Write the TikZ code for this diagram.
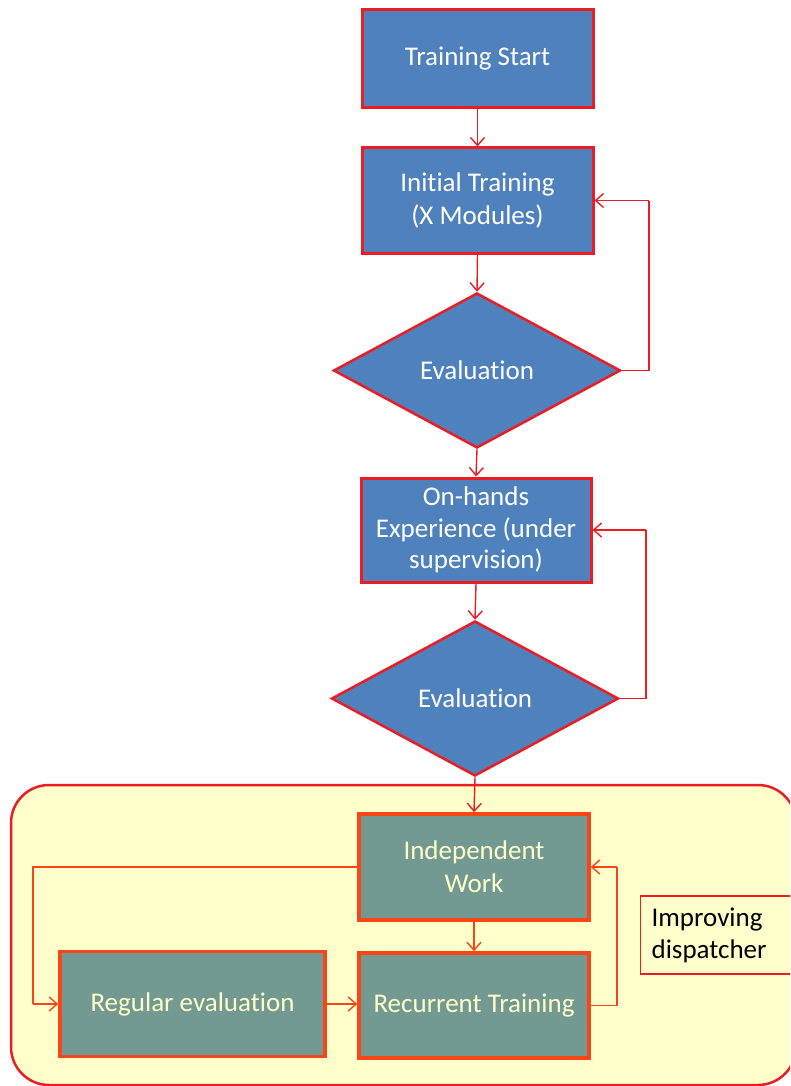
\documentclass[tikz,border=0pt]{standalone}
\usepackage{fontspec}
\setmainfont[Ligatures=NoCommon]{Carlito}
\usetikzlibrary{shapes.geometric,arrows.meta}
\definecolor{stepblue}{RGB}{79,129,189}
\definecolor{steptealfill}{RGB}{114,154,147}
\definecolor{borderred}{RGB}{235,28,36}
\definecolor{borderorange}{RGB}{250,70,22}
\definecolor{panelyellow}{RGB}{255,255,204}
\definecolor{palelabel}{RGB}{255,255,200}
\tikzset{
  bluebox/.style={rectangle, draw=borderred, line width=3pt, fill=stepblue,
    text=white, align=center, font=\fontsize{27}{33}\selectfont, inner sep=0pt},
  decision/.style={diamond, draw=borderred, line width=2.5pt, fill=stepblue,
    text=white, font=\fontsize{27}{33}\selectfont, inner sep=0pt,
    minimum width=287pt, minimum height=155pt},
  tealbox/.style={rectangle, draw=borderorange, line width=3.5pt, fill=steptealfill,
    text=palelabel, align=center, font=\fontsize{27}{33}\selectfont, inner sep=0pt},
  flow/.style={draw=borderred, line width=1.4pt, -{Straight Barb[length=8pt,width=14pt,line width=1.4pt]}},
  flowlow/.style={draw=borderorange, line width=1.4pt, -{Straight Barb[length=8pt,width=14pt,line width=1.4pt]}},
  linelow/.style={draw=borderorange, line width=1.4pt},
  lineup/.style={draw=borderred, line width=1.4pt},
}
\begin{document}
\begin{tikzpicture}[x=1pt,y=-1pt]
\useasboundingbox (0,0) rectangle (790,1086);
\clip (0,0) rectangle (790,1086);

% yellow panel for the independent phase
\draw[draw=borderred, line width=2.5pt, fill=panelyellow, rounded corners=38pt]
  (11,785) rectangle (796,1085);

% upper chain
\node[bluebox, minimum width=231pt, minimum height=98pt] (start) at (477.5,59) {Training Start};
\node[bluebox, minimum width=231pt, minimum height=105pt] (initial) at (477.5,200.5) {Initial Training\\(X Modules)};
\node[decision] (eval1) at (477,370.5) {Evaluation};
\node[bluebox, minimum width=230pt, minimum height=104pt, font=\fontsize{27}{31.5}\selectfont] (onhands) at (476,530) {On-hands\\Experience (under\\supervision)};
\node[decision] (eval2) at (475,698.5) {Evaluation};

% lower panel content
\node[tealbox, minimum width=230pt, minimum height=106pt] (indep) at (474,867) {Independent\\Work};
\node[tealbox, minimum width=230pt, minimum height=105pt] (recur) at (474,1005.5) {Recurrent Training};
\node[tealbox, minimum width=265pt, minimum height=105pt] (regular) at (192.5,1004) {Regular evaluation};
\node[rectangle, draw=borderred, line width=1.2pt, fill=panelyellow, anchor=west,
  minimum height=78pt, text width=150pt, align=left, inner xsep=11pt, inner ysep=0pt,
  font=\fontsize{27}{32}\selectfont, text=black] (improve) at (640,935) {Improving\\dispatcher};

% loop corners
\coordinate (r1) at (649,370.5);
\coordinate (r1t) at (649,200.5);
\coordinate (r2) at (646,698.5);
\coordinate (r2t) at (646,530);
\coordinate (l3) at (33,867);
\coordinate (l3b) at (33,1004);
\coordinate (r4) at (617,1005.5);
\coordinate (r4t) at (617,867);

% connectors
\draw[flow] (start.south) -- (initial.north);
\draw[flow] (initial.south) -- (eval1.north);
\draw[flow] (eval1.south) -- (onhands.north);
\draw[flow] (onhands.south) -- (eval2.north);
\draw[flow] (eval2.south) -- (indep.north);
\draw[lineup] (eval1.east) -- (r1) -- (r1t);
\draw[flow] (r1t) -- (initial.east);
\draw[lineup] (eval2.east) -- (r2) -- (r2t);
\draw[flow] (r2t) -- (onhands.east);

\draw[flowlow] (indep.south) -- (recur.north);
\draw[linelow] (indep.west) -- (l3) -- (l3b);
\draw[flowlow] (l3b) -- (regular.west);
\draw[flowlow] (regular.east) -- (regular.east -| recur.west);
\draw[linelow] (recur.east) -- (r4) -- (r4t);
\draw[flowlow] (r4t) -- (indep.east);
\end{tikzpicture}
\end{document}
